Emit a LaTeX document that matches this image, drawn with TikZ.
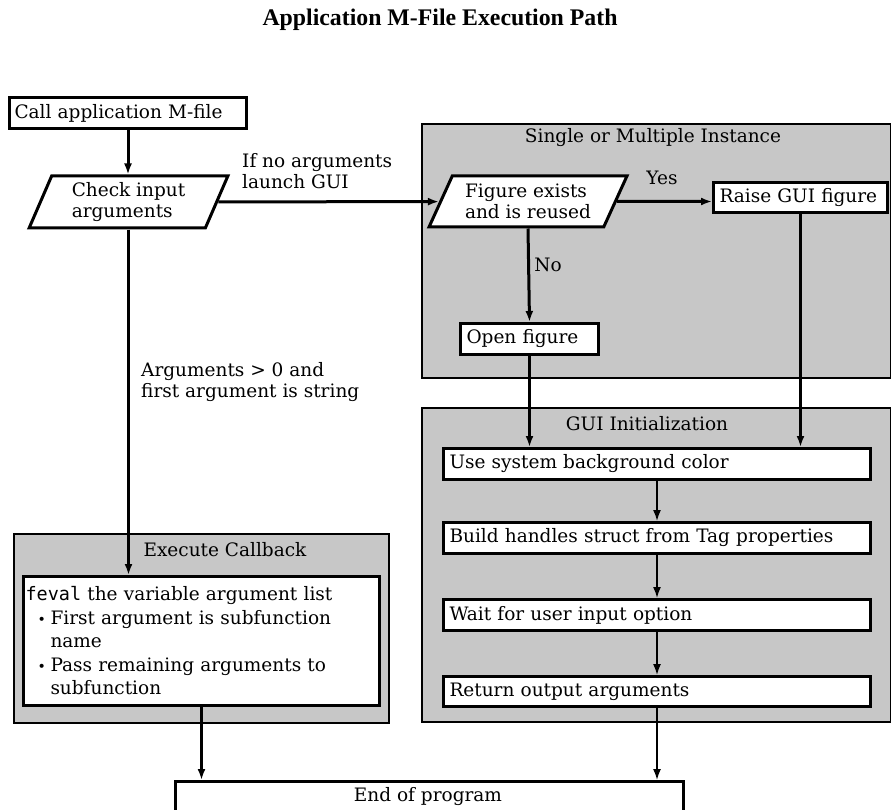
\documentclass[tikz,border=0pt]{standalone}
\usepackage{fontspec}
\setmainfont{DejaVu Serif}
\setmonofont{DejaVu Sans Mono}
\newfontfamily\titlefont{Liberation Serif}
\usetikzlibrary{arrows.meta,shapes.geometric}
\definecolor{panel}{gray}{0.78}
\newcommand\itm{\makebox[25pt][l]{\hspace*{12pt}{\fontsize{14}{14}\selectfont\textbullet}}}
\tikzset{
  txt/.style={font=\fontsize{18.5}{21}\selectfont},
  group/.style={draw, fill=panel, line width=2.2pt, anchor=north west},
  gtitle/.style={txt},
  box/.style={txt, draw, fill=white, line width=3pt, anchor=north west,
    align=left, inner xsep=6pt, inner ysep=0pt},
  slant/.style={txt, draw, fill=white, line width=3pt, trapezium,
    trapezium stretches=true, align=left, inner sep=0pt},
  flow/.style={line width=3pt, -{Latex[length=11pt,width=8pt]}},
  flowmed/.style={line width=2.4pt, -{Latex[length=11pt,width=8pt]}},
  flowthin/.style={line width=1.6pt, -{Latex[length=11pt,width=8pt]}},
  lbl/.style={txt, align=left, inner sep=0pt},
}
\begin{document}
\begin{tikzpicture}[x=1pt,y=-1pt]
\useasboundingbox (0,0) rectangle (891,810);
\clip (0,0) rectangle (891,810);

% heading
\node[font=\titlefont\bfseries\fontsize{23.8}{26}\selectfont] (title) at (440,20) {Application M-File Execution Path};

% shaded panels
\node[group, minimum width=469pt, minimum height=254pt] (smi) at (421,123) {};
\node[gtitle] (smititle) at (653,138) {Single or Multiple Instance};
\node[group, minimum width=469pt, minimum height=314pt] (gui) at (421,407) {};
\node[gtitle] (guititle) at (647,424) {GUI Initialization};
\node[group, minimum width=375pt, minimum height=189pt] (exec) at (13,533) {};
\node[gtitle] (exectitle) at (225,550) {Execute Callback};

% steps
\node[box, minimum width=237pt, minimum height=31pt, text width=227pt, inner xsep=5pt] (call) at (8,96) {Call application M-file};
\node[slant, trapezium left angle=67, trapezium right angle=113,
  minimum width=199pt, minimum height=52pt] (check) at (128.5,202) {Check input\\arguments};
\node[slant, trapezium left angle=61, trapezium right angle=119,
  minimum width=198pt, minimum height=51pt] (fig) at (528,201.5) {Figure exists\\and is reused};
\node[box, minimum width=174pt, minimum height=30pt, text width=162pt, inner xsep=4pt] (raise) at (712,181) {Raise GUI figure};
\node[box, minimum width=138pt, minimum height=31pt, text width=126pt] (open) at (459,322) {Open figure};
\node[box, minimum width=427pt, minimum height=31pt, text width=415pt] (use) at (442,447) {Use system background color};
\node[box, minimum width=427pt, minimum height=31pt, text width=415pt] (build) at (442,521) {Build handles struct from Tag properties};
\node[box, minimum width=427pt, minimum height=31pt, text width=415pt] (wait) at (442,598) {Wait for user input option};
\node[box, minimum width=427pt, minimum height=30pt, text width=415pt] (ret) at (442,675) {Return output arguments};
\node[box, minimum width=356pt, minimum height=129pt, text width=352pt, inner xsep=2pt,
  font=\fontsize{18.5}{23.5}\selectfont] (execin) at (22,575)
  {\texttt{feval} the variable argument list\\
   \itm First argument is subfunction\\
   \hspace*{25pt}name\\
   \itm Pass remaining arguments to\\
   \hspace*{25pt}subfunction};
\node[box, minimum width=508pt, minimum height=44pt, align=center] (end) at (174,780) {};
\node[txt] (endtext) at (428,797) {End of program};

% connectors
\draw[flow] (call.south) -- (call.south |- check.north);
\draw[flow] (check) -- (fig);
\draw[flow] (check.south) -- (check.south |- execin.north);
\draw[flow] (fig) -- (fig -| raise.west);
\draw[flow] (fig.south) -- (open.north);
\draw[flow] (open.south) -- (open.south |- use.north);
\draw[flowmed] (raise.south) -- (raise.south |- use.north);
\draw[flowthin] (use) -- (build);
\draw[flowthin] (build) -- (wait);
\draw[flowthin] (wait) -- (ret);
\draw[flowthin] (ret.south) -- (ret.south |- end.north);
\draw[flow] (execin.south) -- (execin.south |- end.north);

% branch labels
\node[lbl, anchor=west] (nolaunch) at (242,171) {If no arguments\\launch GUI};
\node[lbl] (yes) at (662,178) {Yes};
\node[lbl] (no) at (548,265) {No};
\node[lbl, anchor=north west] (argstr) at (141,362) {Arguments > 0 and\\first argument is string};
\end{tikzpicture}
\end{document}
